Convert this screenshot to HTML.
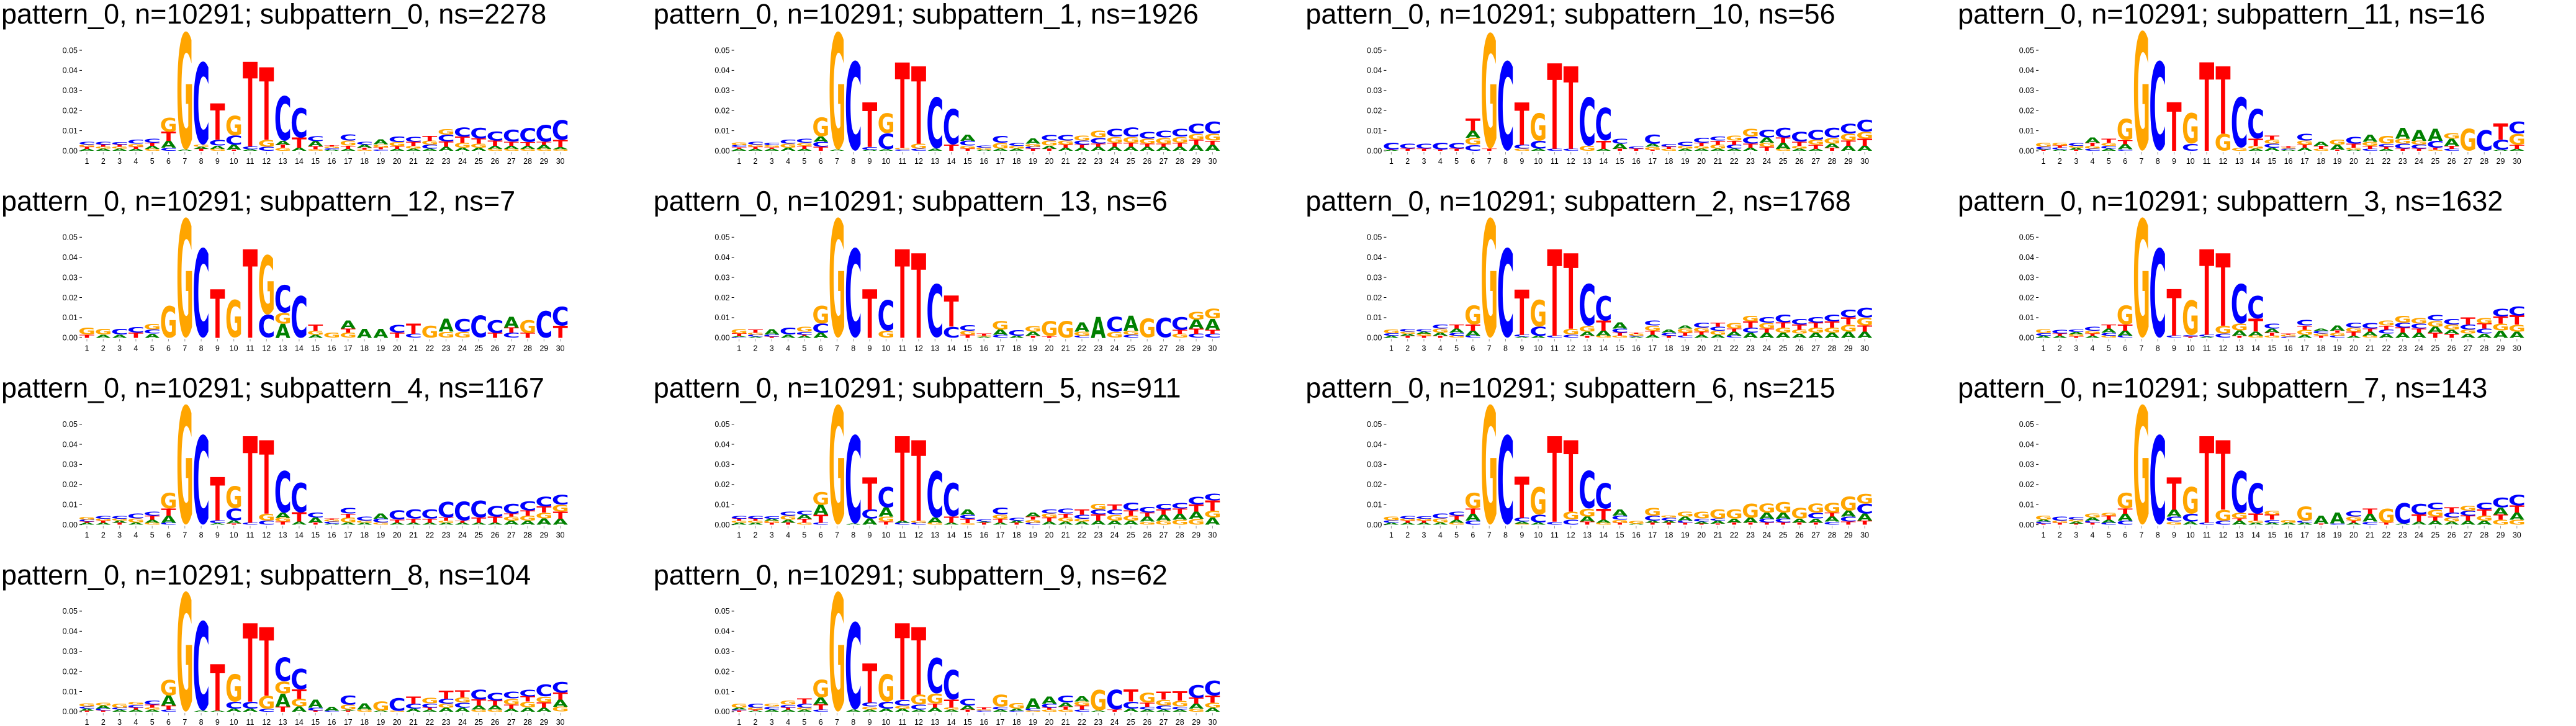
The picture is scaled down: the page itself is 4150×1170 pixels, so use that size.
<!DOCTYPE html>
<html><head><meta charset="utf-8">
<style>
html,body{margin:0;padding:0;background:#fff;}
svg{display:block;}
</style></head>
<body>
<svg id="fig" width="4150" height="1170" viewBox="0 0 4150 1170" xmlns="http://www.w3.org/2000/svg"></svg>
<script>
// ---- data: panel titles and per-position letter stacks (bottom -> top, heights in units of 0.001) ----
const panelNames = ["subpattern_0","subpattern_1","subpattern_10","subpattern_11","subpattern_12","subpattern_13","subpattern_2","subpattern_3","subpattern_4","subpattern_5","subpattern_6","subpattern_7","subpattern_8","subpattern_9"];
const panelNs = [2278,1926,56,16,7,6,1768,1632,1167,911,215,143,104,62];
const positions = [1,2,3,4,5,6,7,8,9,10,11,12,13,14,15,16,17,18,19,20,21,22,23,24,25,26,27,28,29,30];
const yTicks = [0,0.01,0.02,0.03,0.04,0.05];
const yTickLabels = ["0.00","0.01","0.02","0.03","0.04","0.05"];

const sp0 = ["A1T1G1C1.5","A1G1T1C1.5","A1G1T1C1.3","A1T1G1.5C2","G1A1.5T1.5C2","C1.5A3.5T4.5G7","A0.5G59","T1A1G1C41.5","G1A1.5C3T18","T0.5A2.5C4.5G10","A0.7C1.5T42","C2G3.5T36","G1.5T1.5A2C22.5","A1.5T5C15","G0.8T1.5A2.5C2.4","A0.5C0.8G0.8T0.5","A1T1.5G2.5C3.2","G0.5T1A1.5C1.5","C0.7T1G1.5A2.3","A1T1.3G2C3","A1G1.5T2C2.5","A1C2G2T2.3","A2T2.5C3.5G3","A1.5G2.5T3C4.5","A1.5G2T2.5C5.5","G1A1.5T2.5C4.5","G1A1.5T2C6","G1A1.5T1.8C7","G1A2T1.5C8.5","G0.8A1T3.5C10"];
const sp1 = ["A1T0.8C1G1.5","A1T1G1C1.5","A1T0.8G1C1.3","A1.5G2C2","A1T1.5G1.5C2","T2C2.5A2.5G9.5","A0.5G59","C45","A0.5C1.5T22","A0.7C8G10","C0.7G0.7T42.5","C1G2.5T38.5","A1C26","T3C18","T1G1.5C2.5A3","A0.5G1C1","A1G3C3.5","A1G1.5C1.5","T1C1G1.5A2.5","T1A1.5G2.5C3","A1.5T1.5G2C3","A1.5T1.5C2G2.5","A2T1.5C3G3.5","A2T2G3C4","A2T2G3C4.5","A2T1.5G2.5C3.5","A2T1.5G3C3.5","A2T2G3C4","A3T2.5G3C5","A3T2G3.5C6"];
const sp10 = ["A0.3T0.3C3.5","T1C2.5","T1C2.5","T0.5C3.5","T1C3","C3G3.5A3.5T6","T1G58","C45","G1C2T21","A1C4G14","C1T42.5","C1T41","G2.5C24.5","A1T4C16.5","T1A2.5C2.5","T1C1","T0.5G1.5A1.5C4.5","G1T1C1.5","A1G1.5C2","A1G1.5T1.5C2.5","A1G2T2C2","A1C2T2G2.5","A1.5T2C3.5G4","T2G2A2.5C4","G1A3T2.5C5","A1G1.5T2C5","A1T2G2.5C5","T1.5A2G3C5","A2.5T2.5G3.5C5","A2.5T3.5G3.5C6"];
const sp11 = ["T0.3A0.5C1.2G2","A0.6C1T1G1.5","T0.5A1G1C1.5","C1G1.5T1.5A2.5","A1C1.5G1.5T2","C0.7A2.5T2G10.8","G60","C45","T24","C3.5G15.5","T44","G8.5T33.5","G1.5C25.5","A1G1.5T3.5C15","A1.5C2G2T2","A0.5C0.5G0.5T0.8","A1.5T1.5G2C3.5","G1T1.5A2","T0.5A2.5G2.5","A0.5G1T2C3.5","C1T1.5G2A3.5","A1T1C1.5G4","T1C2.5G2.5A5.5","T1C2G2A5.5","G0.5T1C3.5A6","C1T1.5A3.5G3","G11","C10.5","A0.5C5T8","A1T2G5.5C6"];
const sp12 = ["T1.5G3.5","A1.5G3","A1.5C3","T2.5C3","A2C2G3","G16","G60","C45","T24","G19","T44","C11.5G30","A7G5.5C14","C21","A1.5G2T3","G2.5","G2.5T2A4","A4.3","A4.3","T2.5C4","C2T5","G6","G3A6.5","G3C6.5","C11","T2.5C6.5","C2.5T2.5A5.5","T2.5G6.5","C13.5","T6C9.5"];
const sp13 = ["C0.4A0.4T1.3G2.2","A0.5C1G1T1.5","T0.6C1A2.5","A1.5C3.5","A1T0.5C1.5G2.5","A2.5C4.5G9","G60","C45","T24","G3.5C15.5","T44","T42","C27","C5.5T15.5","T1.5G2C3","A0.5G0.5T1","C1.5A2.5G4.3","A1C2.8","T1A2G3","T0.8G7.5","G8.5","C1G2A4.5","A10.5","G3C7.5","C1.5G2A7.5","G9.5","C10","G2T2C6.5","C2T2.5A4.5G4","C2T2A5.5G5"];
const sp2 = ["A1C1.2G1.8","T1A1G1C1.5","T1G1A1C1.3","T1A1.5G2C2","G1C1.5A2T2","C1A2.5T3G9.5","G60","C45","A0.5C1T22.5","A1C4.5G13.5","C1T43","C1.5G3T37.5","T1A2G3C21","G1A2.5T5C12.5","G1T1.5C2A3","A0.5C0.5G1T0.5","A1.5T2G2.5C2.5","T1C1.5A1.5","C1T1.5G2A1.5","A1.5T1.5G2C2.5","A1.5G2C2T2","C1A2T1.5G3","A2.5C2.5T3G3","A2.5T2G3C3","A2.5G2.5T2.5C4","A2G2T2.5C3","A2.5G2.5T2.5C3","A2.5G2.5T3C3.5","A3G3.5T3.5C4","A3T3G4C5"];
const sp3 = ["A1C1.3G1.8","A1T1C1.8","T0.8G1A1C1.2","A1T1G1.5C2","G1C1.5A2T2","C1A2.5T3G9.5","G60","C45","C1T23","T0.5C0.8G17.5","A0.5C1T42.5","C2G4T36","T1A2.5G3.5C20","G1A2T6.5C11.5","G1T1.5A2C2.5","C0.5G1T0.5","A1.5G2.5T2C3","T1G1C1.5A1","C1G1.5T1A2.5","A1T2G2C2.5","G1A2T1.5C3","A2C2T2G2.5","A2.5T2.5C2.5G3.5","A2.5T2C2.5G3","T2.5A3G3C3","T2A2G2.5C3","A2G2C2.5T3.5","A2C2.5T2.5G3","A3.5G3.5T3.5C4","A3G3.5T4.5C4.5"];
const sp4 = ["A1T0.5C1G1.5","A1T1G1C1.5","T1A1G1C1.5","A1G2C2.5","G1A1.5T2C2","C1A3.5T3.5G8","G60","C45","A0.7C1.5T21.5","T0.6A1.5C6G11","C1T43","C2G3.5T36.5","T1.5G2A2.5C21","A1.5T4.5C15","T1A2.5C2.5","A0.5C1G1T0.5","A1G2.5T2C3","A1G1C2","G1C2A2.5","A1T1.5C4.5","A1T2C4.5","A1T2C4.5","A1G1T1.5C8","A1T1C9.5","A1T2.5C8.5","A1T3C5.5","A2G2T1.5C5","A2G2.5T2.5C4.5","A3G3T3C5","A3T3.5G3.5C5"];
const sp5 = ["A1G1T1C1.5","A1G1T1C1.5","T1G1A1C1.3","T1A1.5G2C2","G1T2A2C2","C1T4A5G6.5","G60","A0.5C44.5","A3C4.5T16","T1.5G2.5A4.5C10.5","C1A1T42","C1G1T40","G1A2.5C23.5","A1T3C17","G0.8T2.2C2A2.5","T1A0.5C1","A1T2G2C3.5","T1A1C1.5","C1G1.5T1.5A2","A1.5T2G2C2","A1.5G2T2C2.5","A1.5G1.5C2T2.5","A2T3C2.5G3","A2G3C2.5T2.5","A2G2.5T2.5C4","G1.5A2.5T2C3","G2A3T2.5C3","G2.5A3T2.5C3","G3A3.5T3.5C4","A3.5G3.5T5C3.5"];
const sp6 = ["A1C1.2G1.8","A1T1G1C1.5","A1T1G1C1.3","A1G2C2.5","G1A1.5T2C2","C2A3.5T2.5G8","G60","C45","G0.5A1C2T20.5","A1C4G14","C1.5T42.5","C2.5G4T35.5","T1.5A2.5G4C19","G1A1.5T5.5C13","T1G1.5C2A3","A0.5G1.5","T1A1C2.5G4","T1A1C1.5G1","T1C1A2G2.5","T0.5A1C1.5G3.5","T0.5A1.5C1G4.5","T1A2G4.5","T1A2.5G7","T1C2A3G4.5","T1C2A3G5.5","T1A2G5.5","T1A2C3G4.5","C1.5A2.5T2G5","T1.5C2.5A3G7","T2A3.5C5G5"];
const sp7 = ["T0.5C1A1G2","T1G1C2","T0.5A1G1C1.5","T1C1A1.5G2","C1A1.5T2G1.5","C2A3.5T2.5G8","G60","C45","G1.5C2.5A3.5T16","A1.5C4G13.5","C1T43","C2G5.5T34.5","A2T1G3C21","A1G1T3.5C15.5","A1C1.5T2.5G2","A1G1.5","A1C1G7","T0.5A4","C0.7A5.5","A1T1G2C3","C1.5A4T2.5","T1G7","A0.5C10.5","A1.5T3.5C5.5","A2T2G3.5C3.5","A1.5G2C2.5T2.5","A2T2.5C2.5G2.5","A2G2.5T3C3.5","G2.5T2.5A3.5C5","G2.5A3.5T3.5C5.5"];
const sp8 = ["T0.5A1C1G1.7","T0.5C1A1.5G1.5","A1C1G2","A1T1C1.5G1.5","A1G1T1.5C2","C1T2A5G8","G60","A0.5C45","A0.5T23","A1.5C3.5G14","A1.5C3.5T39","C1.5G6.5T34","T2.5A6.5G6C12","A2.5G4T4.5C10.5","T0.5C1.5A4","C0.5A2","T0.5A0.5G2.5C4.5","G1A3","A0.5G4.5","G0.5C6.5","A1.5C2.5T3.5","A1T1C2G3","A2G2C2.5T4","A2C2.5G2.5T3.5","G1A2T3C5","G1A2T2.5C4","A1.5T2G3C3.5","A2G3T2.5C3.5","A2T2.5G3C6","G2.5A3.5T3.5C5.5"];
const sp9 = ["T0.5C0.5A1G2","A0.5T0.5G1C2","A1C1.5G1.5","A1T1C1.5G2","A1G1C2T2.5","C1T2.5A3.5G9","G60","A1C44","A1G1.5C2T19.5","A1.5C3.5G14","A1.5G1.5C3T38","A1C2.5G5T33.5","A2T2G5C18","A1G1T4C15","T1A2C3.5","C0.5G0.5T1","A1C1.5G6","C0.5A1G3","G0.5C1A5","G1T1C2A3.5","G1T1.5A2C3.5","C1T2G2A2.5","A0.5G10.5","T1C10","A1.5C3.5T6","A1C1.5T2G5","A1C2G3T4","A1C1.5G3T4.5","G1.5A2.5T3C6.5","A2G2.5T3.5C7.5"];
const panelStacks = [sp0,sp1,sp10,sp11,sp12,sp13,sp2,sp3,sp4,sp5,sp6,sp7,sp8,sp9];
</script>
<script>
const NS = "http://www.w3.org/2000/svg";
const svg = document.getElementById('fig');
const COLORS = {A:"#008000", C:"#0000ff", G:"#ffa500", T:"#ff0000"};
const INK = {A:[0,77,0,72.9], C:[5,68,-1.5,74.4], G:[5,76,-1.5,74.4], T:[0,68,0,72.9]};
const COLW = 1050.7, ROWH = 301.3;
const X0 = 140, STEP = 26.3, LW = 24;
const BASE = 243, PXU = 3240;
function yScale(v){ return BASE - v*PXU; }
function xScale(i){ return X0 + i*STEP; }

function parseStack(s){
  const out = []; const re = /([ACGT])([\d.]+)/g; let m;
  while((m = re.exec(s))) out.push([m[1], parseFloat(m[2])/1000]);
  return out;
}
function mk(tag, attrs, parent){
  const e = document.createElementNS(NS, tag);
  for(const k in attrs) e.setAttribute(k, attrs[k]);
  parent.appendChild(e); return e;
}

panelStacks.forEach((stacks, p) => {
  const col = p % 4, row = Math.floor(p / 4);
  const g = mk('g', {transform:`translate(${(col*COLW).toFixed(1)},${(row*ROWH).toFixed(1)})`}, svg);
  
  
  const t = mk('text', {x:2, y:38, 'font-family':'"Liberation Sans", sans-serif', 'font-size':45, fill:'#000'}, g);
  
  
  t.textContent = `pattern_0, n=10291; ${panelNames[p]}, ns=${panelNs[p]}`;
  const ya = mk('g', {}, g);
  
  
  yTicks.forEach((v, k) => {
    const y = yScale(v);
    mk('line', {x1:128, x2:132, y1:y, y2:y, stroke:'#000', 'stroke-width':1}, ya);
    const lb = mk('text', {x:125, y:y+4.3, 'text-anchor':'end', 'font-family':'"Liberation Sans", sans-serif', 'font-size':12.5, fill:'#000'}, ya);
    
    
    lb.textContent = yTickLabels[k];
  });
  const xa = mk('g', {}, g);
  
  
  positions.forEach((pos, i) => {
    const x = xScale(i);
    mk('line', {x1:x, x2:x, y1:BASE+2, y2:BASE+6, stroke:'#999', 'stroke-width':1}, xa);
    const lb = mk('text', {x:x, y:BASE+21, 'text-anchor':'middle', 'font-family':'"Liberation Sans", sans-serif', 'font-size':12.5, fill:'#000'}, xa);
    
    
    lb.textContent = pos;
  });
  const lg = mk('g', {}, g);
  
  
  stacks.forEach((s, i) => {
    let cum = 0;
    const xl = xScale(i) - LW/2;
    parseStack(s).forEach(([L, v]) => {
      const yb = yScale(cum), yt = yScale(cum + v);
      cum += v;
      const h = yb - yt; if(h <= 0.2) return;
      const ink = INK[L];
      const sx = LW/(ink[1]-ink[0]), sy = h/(ink[3]-ink[2]);
      const tx = mk('text', {x:0, y:0, 'font-family':'"DejaVu Sans", "Liberation Sans", sans-serif', 'font-weight':'bold', 'font-size':100, fill:COLORS[L],
        transform:`translate(${xl.toFixed(2)},${yb.toFixed(2)}) scale(${sx.toFixed(4)},${sy.toFixed(4)}) translate(${-ink[0]},${ink[2]})`}, lg);
      
      
      tx.textContent = L;
    });
  });
});
</script>
</body></html>
